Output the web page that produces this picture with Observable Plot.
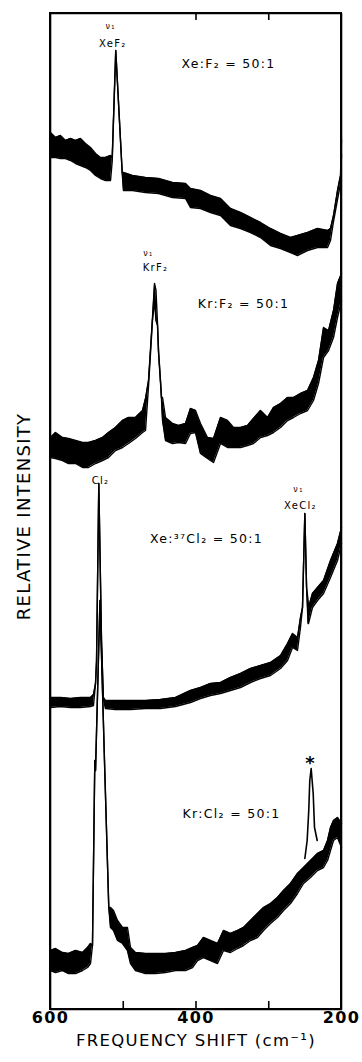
<!DOCTYPE html>
<html><head><meta charset="utf-8">
<script src="https://cdn.jsdelivr.net/npm/d3@7"></script>
<script src="https://cdn.jsdelivr.net/npm/@observablehq/plot@0.6"></script>
<style>
body{margin:0;background:#fff}
#wrap{position:relative;width:362px;height:1062px;overflow:hidden}
#chart svg{display:block}
#chart svg text{letter-spacing:1.3px}
#box{position:absolute;left:49px;top:12px;width:293px;height:998px;border:2px solid #000;box-sizing:border-box;pointer-events:none}
</style>
</head><body><div id="wrap"><div id="chart"></div><div id="box"></div></div>
<script>
// Each point: [frequency shift (cm-1), lower edge, upper edge] of the noisy trace (arbitrary intensity units)
const xeF2 = [
  [600,85.2,87.7],[593.1,85.2,87.2],[586.3,85.1,87.4],[579.4,85.1,86.9],[572.5,84.9,87.1],
  [565.6,84.6,86.9],[558.8,84.4,87.1],[551.9,84.2,86.6],[545.0,83.9,86.2],[538.1,83.4,85.6],
  [531.3,83.1,85.2],[524.4,82.9,85.2],[517.5,82.9,85.4],[515.2,84.8,85.2],[510.3,95.9,95.9],
  [501.4,83.6,83.7],[499.7,81.9,83.7],[487.3,81.9,83.4],[469.4,81.7,83.2],[451.5,81.6,83.1],
  [432.3,81.2,82.7],[414.4,81.1,82.6],[407.6,80.2,82.1],[393.8,80.1,81.9],[380.1,79.7,81.4],
  [366.3,79.4,81.1],[352.6,78.4,80.1],[338.8,78.1,79.7],[325.1,77.7,79.2],[311.3,77.2,78.7],
  [297.6,76.4,78.1],[283.8,76.1,77.6],[270.1,75.7,77.2],[260.5,75.4,77.4],[246.7,75.9,77.7],
  [233.0,76.2,78.1],[219.2,76.2,77.9],[215.1,76.9,78.1],[211.0,78.8,79.4],[205.5,81.0,81.9],
  [201.4,82.6,83.4],[200.0,85.5,87.0]
];
const krF2 = [
  [600,55.2,57.2],[593.1,55.1,57.7],[583.5,54.9,57.2],[575.3,54.6,57.1],[565.6,54.6,56.9],
  [556.0,54.2,56.7],[547.8,54.2,56.7],[538.1,54.6,56.9],[528.5,54.9,57.2],[520.3,55.2,57.7],
  [510.7,55.9,58.2],[501.0,56.2,58.9],[492.8,56.6,59.2],[483.2,57.1,59.2],[473.5,57.7,59.9],
  [469.4,57.9,61.1],[465.3,62.3,62.9],[459.8,68.9,69.2],[457.0,70.9,72.6],[455.0,68.9,71.9],
  [452.9,68.4,68.6],[451.5,65.7,65.9],[448.8,62.7,62.9],[447.4,61.0,61.2],[446.0,58.9,61.2],
  [441.9,56.9,59.2],[432.3,56.6,58.6],[424.0,56.7,58.4],[414.4,56.6,58.6],[407.6,57.6,60.1],
  [400.7,57.7,59.9],[393.8,55.6,58.6],[384.2,55.1,57.2],[375.9,54.7,57.1],[366.3,56.6,59.2],
  [356.7,56.2,58.9],[348.4,56.2,58.2],[338.8,56.2,58.2],[329.2,56.4,58.4],[321.0,56.6,59.1],
  [311.3,57.2,59.9],[301.7,57.4,59.2],[293.5,57.7,60.2],[283.8,58.2,60.6],[274.2,58.9,61.2],
  [266.0,59.2,61.2],[256.4,59.6,61.6],[246.7,59.9,61.9],[238.5,60.9,63.2],[231.6,62.6,64.9],
  [224.7,65.2,68.2],[217.8,65.9,67.9],[211.0,67.2,69.9],[205.5,69.2,72.6],[200.0,70.9,73.6]
];
const xeCl2 = [
  [600,30.2,31.2],[586.3,30.3,31.2],[572.5,30.2,31.1],[558.8,30.2,31.2],[545.0,30.3,31.2],
  [540.9,30.4,31.5],[538.1,32.6,32.6],[536.7,34.9,34.9],[533.6,52.6,52.6],[529.9,36.9,36.9],
  [527.4,31.2,31.2],[524.4,30.1,30.9],[510.7,30.0,30.9],[490.0,30.0,30.9],[469.4,30.1,30.9],
  [448.8,30.1,31.0],[428.2,30.3,31.2],[407.6,30.7,31.9],[393.8,31.1,32.2],[380.1,31.4,32.6],
  [366.3,31.6,32.7],[352.6,31.9,33.2],[338.8,32.2,33.6],[325.1,32.7,34.1],[311.3,33.1,34.4],
  [297.6,33.4,34.7],[283.8,34.1,35.4],[274.2,34.9,36.6],[267.3,36.2,37.6],[260.5,35.9,37.2],
  [256.4,38.2,39.2],[253.6,40.2,40.2],[250.4,49.6,49.6],[248.0,42.2,42.2],[245.9,38.6,40.9],
  [245.4,38.6,40.2],[239.9,40.2,41.6],[233.0,40.9,42.2],[224.7,41.6,42.9],[215.1,43.2,44.9],
  [205.5,44.9,46.6],[200.0,46.6,48.2]
];
const krCl2 = [
  [600,3.9,5.9],[593.1,3.7,6.1],[583.5,3.9,5.7],[575.3,3.6,5.6],[565.6,3.6,5.9],
  [556.0,3.9,5.7],[549.1,4.2,6.2],[545.0,4.6,6.6],[542.3,6.4,6.4],[539.1,24.9,24.9],
  [538.1,23.9,23.9],[532.0,40.9,40.9],[525.4,23.9,23.9],[519.9,10.2,10.2],[517.5,8.2,10.2],
  [513.4,7.9,9.9],[507.9,6.9,8.9],[501.0,6.6,8.2],[494.2,5.9,8.2],[490.0,4.6,6.2],
  [483.2,3.9,5.7],[469.4,3.6,5.6],[455.7,3.6,5.6],[441.9,3.7,5.6],[428.2,3.9,5.7],
  [414.4,3.9,5.9],[404.8,4.2,6.2],[397.9,4.9,6.4],[389.7,5.2,7.2],[380.1,4.9,6.9],
  [370.4,4.6,6.6],[362.2,5.9,7.9],[352.6,5.7,7.6],[342.9,6.1,7.9],[334.7,6.4,8.2],
  [325.1,6.9,8.9],[315.5,7.2,9.6],[307.2,7.9,10.2],[297.6,8.6,10.6],[288.0,9.2,11.2],
  [279.7,9.9,11.9],[270.1,10.6,12.6],[260.5,11.6,13.6],[252.2,12.6,14.2],[242.6,13.2,14.9],
  [233.0,13.9,15.6],[224.7,14.2,15.9],[219.2,14.9,16.9],[215.1,15.9,18.2],[211.0,16.9,18.9],
  [205.5,17.2,19.2],[200.0,16.2,18.6]
];
// separately recorded band marked with an asterisk in the Kr:Cl2 trace
const starBand = [
  [250.4,15.1],[247.2,16.9],[245.0,19.9],[243.6,22.9],[241.7,24.1],[238.9,21.6],[237.1,18.2],[233.4,16.9]
];
const xDomain = [600, 200];
const yDomain = [0, 99.6];
const frameCorners = [[600,0],[600,99.6],[200,99.6],[200,0],[600,0]];
const tickLabels = [600, 400, 200];
const bottomTicks = [500, 400, 300];
const topTicks = [400, 300];
const xLabel = "FREQUENCY SHIFT (cm\u207B\u00B9)";
const yLabel = "RELATIVE INTENSITY";
// annotations: [text, frequency, intensity, font size]
const notes = [
  ["\u03BD\u2081", 517.5, 98.3, 8],
  ["XeF\u2082", 514.3, 96.6, 10],
  ["Xe:F\u2082 = 50:1", 355.3, 94.6, 12.5],
  ["\u03BD\u2081", 465.3, 75.6, 8],
  ["KrF\u2082", 455.7, 74.2, 10],
  ["Kr:F\u2082 = 50:1", 334.7, 70.6, 12.5],
  ["Cl\u2082", 531.3, 52.9, 10],
  ["\u03BD\u2081", 259.1, 52.0, 8],
  ["XeCl\u2082", 256.4, 50.4, 10],
  ["Xe:\u00B3\u2077Cl\u2082 = 50:1", 385.6, 47.1, 12.5],
  ["Kr:Cl\u2082 = 50:1", 351.2, 19.6, 12.5]
];
const starLabel = [["*", 242.6, 24.6]];

const traces = [xeF2, krF2, xeCl2, krCl2];
const ink = "#000";
const W = 362, H = 1062, mT = 13, mB = 53;
const innerH = H - mT - mB;

const chart = Plot.plot({
  width: W, height: H,
  marginLeft: 50, marginRight: 21, marginTop: mT, marginBottom: mB,
  x: {domain: xDomain, axis: null},
  y: {domain: yDomain, axis: null},
  style: "background: white; color: #000; font-family: 'DejaVu Sans', sans-serif;",
  marks: [
    ...traces.flatMap(t => [
      Plot.areaY(t, {x: d => d[0], y1: d => d[1], y2: d => d[2], fill: ink}),
      Plot.line(t, {x: d => d[0], y: d => d[1], stroke: ink, strokeWidth: 1.4}),
      Plot.line(t, {x: d => d[0], y: d => d[2], stroke: ink, strokeWidth: 1.4})
    ]),
    Plot.line(starBand, {x: d => d[0], y: d => d[1], stroke: ink, strokeWidth: 1.6}),
    Plot.axisX(tickLabels, {tickSize: 0, tickPadding: 2, fontSize: 16, fontWeight: "bold", tickFormat: d => String(d), label: null}),
    Plot.text([xLabel], {frameAnchor: "bottom", dy: 36, fontSize: 16.5, textAnchor: "middle", text: d => d}),
    Plot.text([yLabel], {frameAnchor: "left", dx: -26, dy: 5, rotate: -90, fontSize: 18, textAnchor: "middle", text: d => d}),
    ...notes.map(n => Plot.text([n], {x: d => d[1], y: d => d[2], text: d => d[0], fontSize: n[3]})),
    Plot.text(starLabel, {x: d => d[1], y: d => d[2], text: d => d[0], fontSize: 18, fontWeight: "bold"}),
    Plot.tickX(bottomTicks, {x: d => d, insetTop: innerH - 8, stroke: ink, strokeWidth: 1.6}),
    Plot.tickX(topTicks, {x: d => d, insetBottom: innerH - 7, stroke: ink, strokeWidth: 1.6}),
    Plot.line(frameCorners, {x: d => d[0], y: d => d[1], stroke: ink, strokeWidth: 1.6})
  ]
});
document.getElementById("chart").appendChild(chart);
d3.select(chart).selectAll("text").each(function() {
  const t = this.textContent;
  if (t === yLabel) this.setAttribute("letter-spacing", "2.6px");
  if (t === xLabel) this.setAttribute("letter-spacing", "2.4px");
  if (/^(XeF|KrF|XeCl|Cl)/.test(t)) this.setAttribute("letter-spacing", "2px");
});
</script>
</body></html>
